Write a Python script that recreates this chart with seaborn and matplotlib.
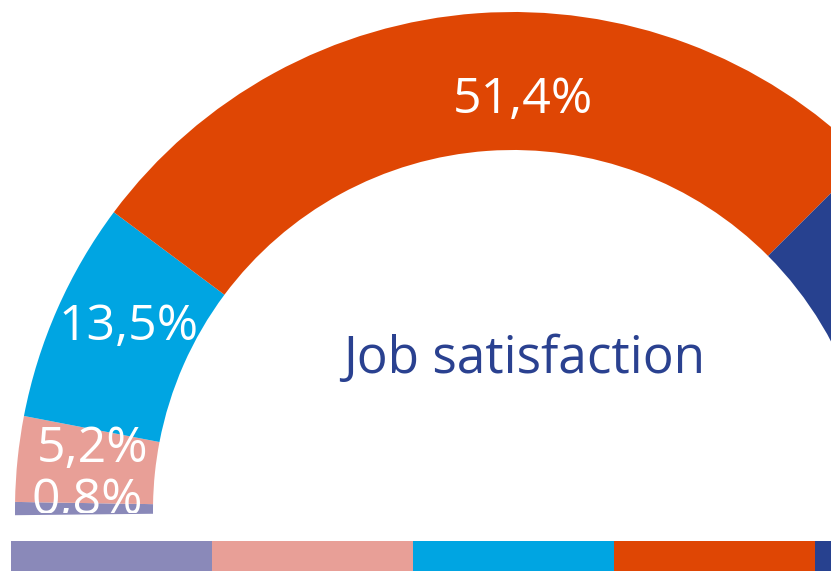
#!/usr/bin/env python3
"""
Job satisfaction half-donut, cropped like the source graphic.
"""

import numpy as np
import matplotlib
matplotlib.use("Agg")
import matplotlib.pyplot as plt
import seaborn as sns

# data
categories = ["Very dissatisfied", "Dissatisfied", "Neutral", "Satisfied", "Very satisfied"]
shares = [0.8, 5.2, 13.5, 51.4, 29.1]
share_labels = ["0,8%", "5,2%", "13,5%", "51,4%", None]
colors = ["#8a89b9", "#e89f97", "#00a5e2", "#df4604", "#27418f"]
title_text = "Job satisfaction"

sns.set_style("white")
plt.rcParams['font.family'] = ['Open Sans', 'DejaVu Sans']

W, H = 831, 571
fig = plt.figure(figsize=(W / 100, H / 100), dpi=100)
fig.patch.set_facecolor("white")

# donut axes, clipped at pixel row 513 (axes coords == pixels)
clip_row = 513
ax = fig.add_axes([0, (H - clip_row) / H, 1, clip_row / H])
center = (513, clip_row - 510)
outer_r, ring_w = 498, 138
span_deg = 191.4                      # angular span used for 100 %
filler = 100 * 360 / span_deg - 100   # invisible remainder of the full circle

wedges, _ = ax.pie(
    shares + [filler],
    colors=colors + ["none"],
    startangle=180.6,
    counterclock=False,
    center=center,
    radius=outer_r,
    wedgeprops=dict(width=ring_w, linewidth=0),
)
ax.set_xlim(0, W)
ax.set_ylim(0, clip_row)
ax.set_aspect("auto")
ax.axis("off")

# label anchors in pixels (centre x, baseline y)
label_pos = [(87, 514), (93, 462), (129, 340), (523, 113)]
for txt, (px, py) in zip(share_labels, label_pos):
    if txt is None:
        continue
    ax.text(px, clip_row - py, txt, color="white", fontsize=36,
            ha="center", va="baseline", clip_on=True)

fig.text(524 / W, 1 - 373 / H, title_text, color="#2a4190", fontsize=37,
         ha="center", va="baseline")

# colour key strip along the bottom
sw = 201
lax = fig.add_axes([11 / W, 0, sw * len(categories) / W, 30 / H])
sns.barplot(x=categories, y=[1] * len(categories), hue=categories,
            palette=colors, width=1, saturation=1, legend=False,
            linewidth=0, ax=lax)
lax.set_xlim(-0.5, len(categories) - 0.5)
lax.set_ylim(0, 1)
lax.axis("off")

fig.savefig("out.png", dpi=100, facecolor="white")
